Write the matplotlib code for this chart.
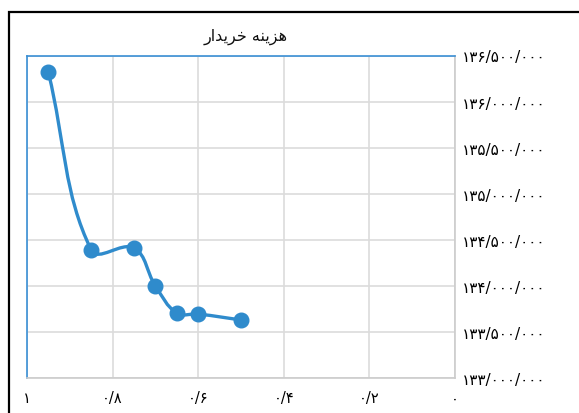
import numpy as np
import matplotlib
matplotlib.use("Agg")
import matplotlib.pyplot as plt
from matplotlib.path import Path
from matplotlib.patches import PathPatch

plt.rcParams['font.family'] = ['DejaVu Sans']

# Buyer cost versus ratio
title = "ﺭﺍﺪﻳﺮﺧ ﻪﻨﻳﺰﻫ"  # "هزینه خریدار", pre-shaped glyphs in visual order
x_vals = [0.95, 0.85, 0.75, 0.70, 0.65, 0.60, 0.50]
y_vals = [136316000, 134390000, 134410000, 134000000, 133705000, 133694000, 133630000]

x_ticks = [1.0, 0.8, 0.6, 0.4, 0.2, 0.0]
x_tick_labels = ["۱", "۰/۸", "۰/۶", "۰/۴", "۰/۲", "۰"]
y_ticks = [133000000, 133500000, 134000000, 134500000,
           135000000, 135500000, 136000000, 136500000]
y_tick_labels = ["۱۳۳/۰۰۰/۰۰۰", "۱۳۳/۵۰۰/۰۰۰", "۱۳۴/۰۰۰/۰۰۰", "۱۳۴/۵۰۰/۰۰۰",
                 "۱۳۵/۰۰۰/۰۰۰", "۱۳۵/۵۰۰/۰۰۰", "۱۳۶/۰۰۰/۰۰۰", "۱۳۶/۵۰۰/۰۰۰"]

W, H = 579, 414
fig = plt.figure(figsize=(W / 100, H / 100), dpi=100)

# outer frame: left and top edges only, as one open path
fx, fy = 8.5 / W, 1 - 12.5 / H
frame = Path([(fx, -0.05), (fx, fy), (1.05, fy)],
             [Path.MOVETO, Path.LINETO, Path.LINETO])
fig.patches.append(PathPatch(frame, transform=fig.transFigure, fill=False,
                             edgecolor="black", linewidth=1.6))

L, R, T, B = 27, 455, 56.5, 379
ax = fig.add_axes([L / W, 1 - B / H, (R - L) / W, (B - T) / H])
ax.set_xlim(1.0, 0.0)
ax.set_ylim(133000000, 136500000)

ax.set_xticks(x_ticks)
ax.set_xticklabels(x_tick_labels, fontsize=10.5)
ax.set_yticks(y_ticks)
ax.set_yticklabels(y_tick_labels, fontsize=11)
ax.yaxis.tick_right()
ax.tick_params(axis="both", length=0)
ax.tick_params(axis="y", pad=5)
ax.tick_params(axis="x", pad=9)
for lbl in ax.get_yticklabels():
    lbl.set_horizontalalignment("left")

ax.grid(True, color="#dcdcdc", linewidth=1.2)
ax.set_axisbelow(True)
ax.spines["left"].set_color("#3a8fd4")
ax.spines["top"].set_color("#3a8fd4")
ax.spines["right"].set_color("#cccccc")
ax.spines["bottom"].set_color("#cccccc")
for s in ax.spines.values():
    s.set_linewidth(1.2)

fig.text((L + R) / 2 / W + 5 / W, 1 - 37 / H, title, ha="center", va="center",
         fontsize=11.5, color="#111111")

# smooth curve with cubic bezier control points (tension spline)
fig.canvas.draw()
pts = ax.transData.transform(np.column_stack([x_vals, y_vals]))
tension = 0.4
n = len(pts)
cp_prev = np.zeros_like(pts)
cp_next = np.zeros_like(pts)
for i in range(n):
    p0 = pts[max(i - 1, 0)]
    p1 = pts[i]
    p2 = pts[min(i + 1, n - 1)]
    d01 = np.hypot(*(p1 - p0))
    d12 = np.hypot(*(p2 - p1))
    tot = d01 + d12
    s01 = d01 / tot if tot else 0
    s12 = d12 / tot if tot else 0
    cp_prev[i] = p1 - tension * s01 * (p2 - p0)
    cp_next[i] = p1 + tension * s12 * (p2 - p0)
verts = [pts[0]]
codes = [Path.MOVETO]
for i in range(n - 1):
    verts += [cp_next[i], cp_prev[i + 1], pts[i + 1]]
    codes += [Path.CURVE4] * 3
verts = ax.transData.inverted().transform(np.array(verts))
ax.add_patch(PathPatch(Path(verts, codes), facecolor="none",
                       edgecolor="#2f8bcc", linewidth=2.4, zorder=3))
ax.plot(x_vals, y_vals, linestyle="none", marker="o", markersize=10.5,
        color="#2f8bcc", zorder=4, clip_on=False)

fig.savefig("out.png", dpi=100)
